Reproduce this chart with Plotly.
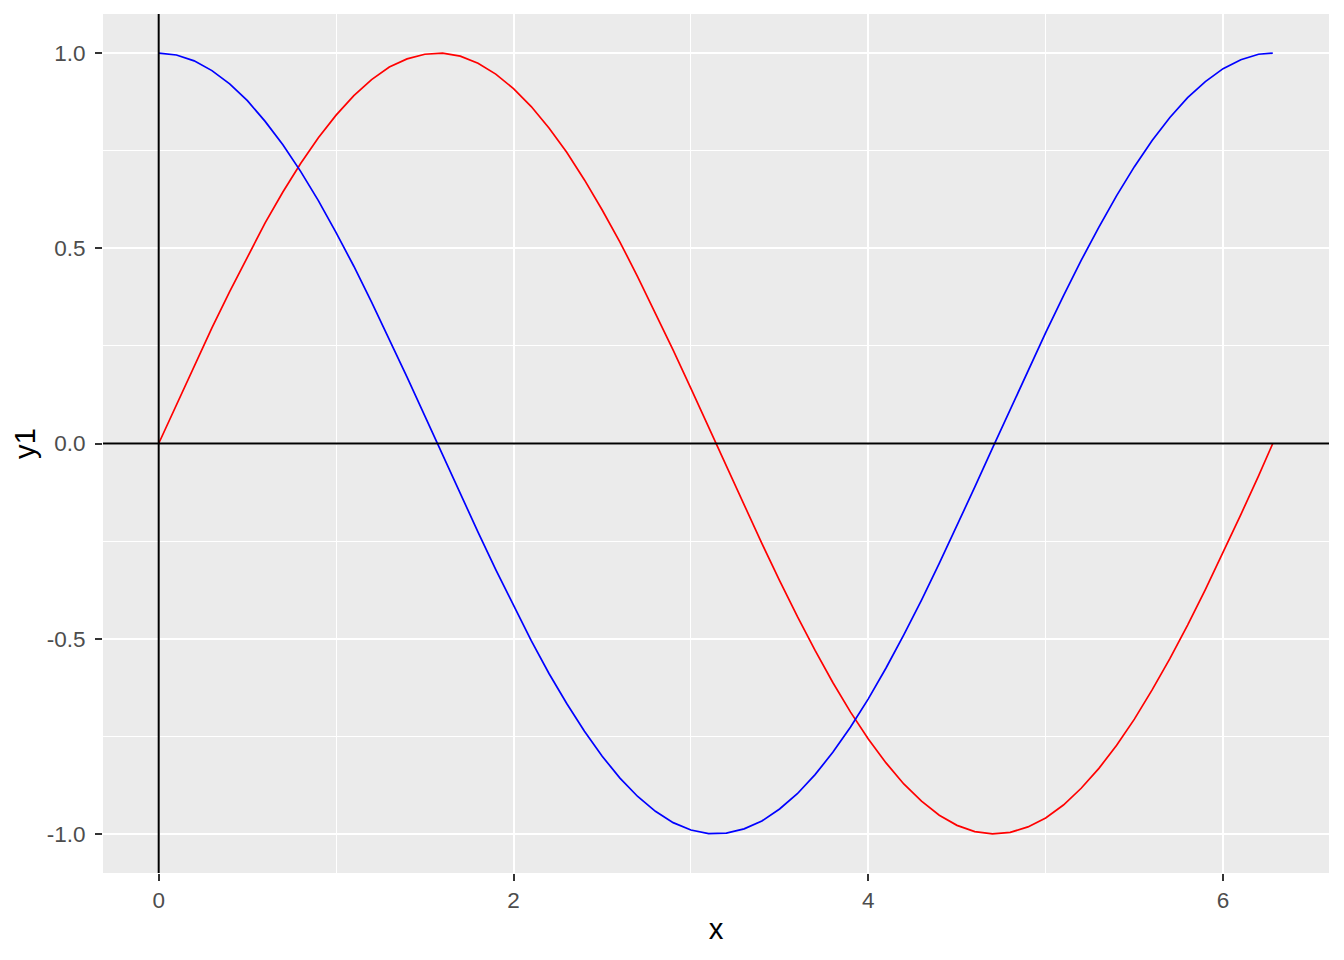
import plotly.graph_objects as go

x = [0.0, 0.1, 0.2, 0.3, 0.4, 0.5, 0.6, 0.7, 0.8, 0.9,
     1.0, 1.1, 1.2, 1.3, 1.4, 1.5, 1.6, 1.7, 1.8, 1.9,
     2.0, 2.1, 2.2, 2.3, 2.4, 2.5, 2.6, 2.7, 2.8, 2.9,
     3.0, 3.1, 3.2, 3.3, 3.4, 3.5, 3.6, 3.7, 3.8, 3.9,
     4.0, 4.1, 4.2, 4.3, 4.4, 4.5, 4.6, 4.7, 4.8, 4.9,
     5.0, 5.1, 5.2, 5.3, 5.4, 5.5, 5.6, 5.7, 5.8, 5.9,
     6.0, 6.1, 6.2, 6.28]

y1 = [0.000, 0.100, 0.199, 0.296, 0.389, 0.479, 0.565, 0.644, 0.717, 0.783,
      0.841, 0.891, 0.932, 0.964, 0.985, 0.997, 1.000, 0.992, 0.974, 0.946,
      0.909, 0.863, 0.808, 0.746, 0.675, 0.598, 0.516, 0.427, 0.335, 0.239,
      0.141, 0.042, -0.058, -0.158, -0.256, -0.351, -0.443, -0.530, -0.612, -0.688,
      -0.757, -0.818, -0.872, -0.916, -0.952, -0.978, -0.994, -1.000, -0.996, -0.982,
      -0.959, -0.926, -0.883, -0.832, -0.773, -0.706, -0.631, -0.551, -0.465, -0.374,
      -0.279, -0.182, -0.083, 0.000]

y2 = [1.000, 0.995, 0.980, 0.955, 0.921, 0.878, 0.825, 0.765, 0.697, 0.622,
      0.540, 0.454, 0.362, 0.267, 0.170, 0.071, -0.029, -0.129, -0.227, -0.323,
      -0.416, -0.505, -0.589, -0.666, -0.737, -0.801, -0.857, -0.904, -0.942, -0.971,
      -0.990, -0.999, -0.998, -0.987, -0.967, -0.936, -0.897, -0.848, -0.791, -0.726,
      -0.654, -0.575, -0.490, -0.401, -0.307, -0.211, -0.112, -0.012, 0.087, 0.187,
      0.284, 0.378, 0.469, 0.554, 0.635, 0.709, 0.776, 0.835, 0.886, 0.927,
      0.960, 0.983, 0.997, 1.000]

x_ticks = [0, 2, 4, 6]
x_tick_labels = ["0", "2", "4", "6"]
y_ticks = [-1.0, -0.5, 0.0, 0.5, 1.0]
y_tick_labels = ["-1.0", "-0.5", "0.0", "0.5", "1.0"]

fig = go.Figure()
fig.add_trace(go.Scatter(x=x, y=y1, mode="lines", line=dict(color="red", width=1.7), showlegend=False))
fig.add_trace(go.Scatter(x=x, y=y2, mode="lines", line=dict(color="blue", width=1.7), showlegend=False))

fig.add_shape(type="line", xref="x", yref="paper", x0=0, x1=0, y0=0, y1=1,
              line=dict(color="black", width=2), layer="above")
fig.add_shape(type="line", xref="paper", yref="y", x0=0, x1=1, y0=0, y1=0,
              line=dict(color="black", width=2), layer="above")

font = "Liberation Sans, Arial, sans-serif"
axis_common = dict(
    showline=False, zeroline=False,
    gridcolor="white", gridwidth=2,
    ticks="outside", ticklen=7, tickwidth=2, tickcolor="#333333",
    tickfont=dict(family=font, size=22.5, color="#4D4D4D"),
    minor=dict(showgrid=True, gridcolor="white", gridwidth=1, ticks=""),
)

fig.update_xaxes(
    range=[-0.314, 6.597], tickvals=x_ticks, ticktext=x_tick_labels,
    title=dict(text="x", font=dict(family=font, size=29.3, color="black"), standoff=6),
    minor_tickvals=[1, 3, 5],
    ticklabelstandoff=0,
    **axis_common,
)
fig.update_yaxes(
    range=[-1.1, 1.1], tickvals=y_ticks, ticktext=y_tick_labels,
    title=dict(text="y1", font=dict(family=font, size=29.3, color="black"), standoff=8),
    minor_tickvals=[-0.75, -0.25, 0.25, 0.75],
    ticklabelstandoff=5,
    **axis_common,
)

# page body has an 8px default margin, so the figure is shrunk to compensate
fig.update_layout(
    width=1336, height=952,
    margin=dict(l=95, r=15, t=6, b=87),
    plot_bgcolor="#EBEBEB", paper_bgcolor="white",
    font=dict(family=font),
)

fig.write_html("out.html")
